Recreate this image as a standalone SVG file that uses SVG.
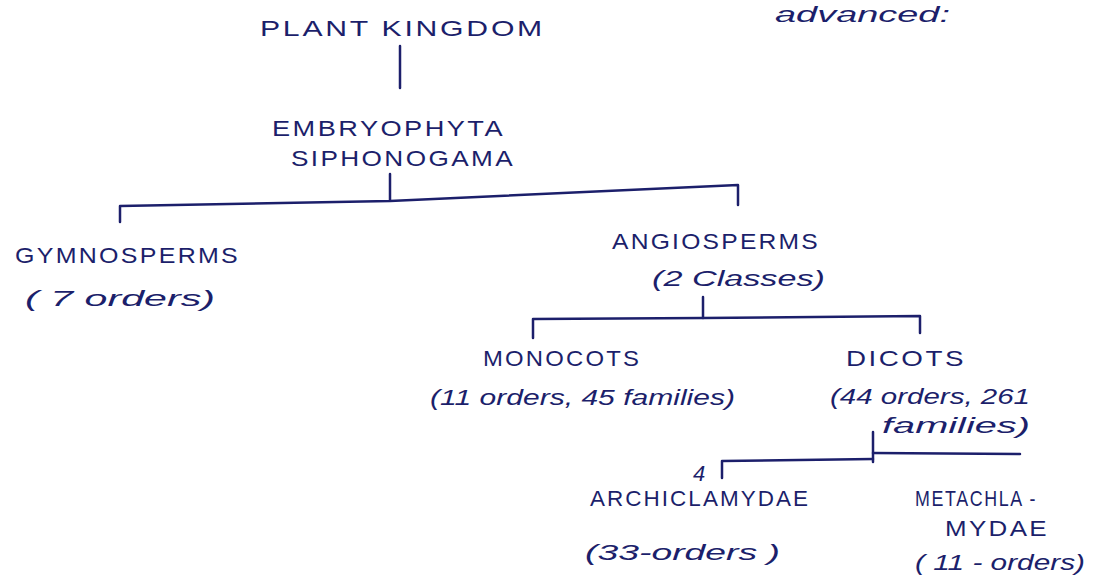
<svg xmlns="http://www.w3.org/2000/svg" width="1100" height="579" viewBox="0 0 1100 579">
<style>
.t{font-family:"Liberation Sans",Arial,sans-serif;fill:#1c1f6b;font-size:22px;letter-spacing:2px}
.s{font-family:"Liberation Sans",Arial,sans-serif;fill:#1c1f6b;font-size:22px;font-style:italic}
.c{fill:none;stroke:#1c1f6b;stroke-width:2.5;stroke-linecap:round;stroke-linejoin:round}
</style>
<rect width="1100" height="579" fill="#ffffff"/>
<g id="connectors">
<path class="c" d="M400 46 V88"/>
<path class="c" d="M390 174 V200"/>
<path class="c" d="M120 222 V206 L390 201 L738 185 V205"/>
<path class="c" d="M703 297 V318"/>
<path class="c" d="M533 338 V319 L703 318 L920 316 V333"/>
<path class="c" d="M873 432 V462"/>
<path class="c" d="M722 478 V461 L873 459"/>
<path class="c" d="M873 453 L1020 454"/>
</g>
<g id="note"><text class="s" x="775" y="22" font-size="20" textLength="175" lengthAdjust="spacingAndGlyphs">advanced:</text></g>
<g id="plant-kingdom"><text class="t" x="260" y="36" textLength="285" lengthAdjust="spacingAndGlyphs">PLANT KINGDOM</text></g>
<g id="embryophyta"><text class="t" x="272" y="136" textLength="233" lengthAdjust="spacingAndGlyphs">EMBRYOPHYTA</text><text class="t" x="291" y="166" textLength="224" lengthAdjust="spacingAndGlyphs">SIPHONOGAMA</text></g>
<g id="gymnosperms"><text class="t" x="15" y="263" textLength="225" lengthAdjust="spacingAndGlyphs">GYMNOSPERMS</text><text class="s" x="25" y="306" textLength="190" lengthAdjust="spacingAndGlyphs">( 7 orders)</text></g>
<g id="angiosperms"><text class="t" x="612" y="249" textLength="208" lengthAdjust="spacingAndGlyphs">ANGIOSPERMS</text><text class="s" x="652" y="286" textLength="173" lengthAdjust="spacingAndGlyphs">(2 Classes)</text></g>
<g id="monocots"><text class="t" x="483" y="366" textLength="158" lengthAdjust="spacingAndGlyphs">MONOCOTS</text><text class="s" x="430" y="405" textLength="305" lengthAdjust="spacingAndGlyphs">(11 orders, 45 families)</text></g>
<g id="dicots"><text class="t" x="846" y="366" textLength="120" lengthAdjust="spacingAndGlyphs">DICOTS</text><text class="s" x="830" y="404" textLength="200" lengthAdjust="spacingAndGlyphs">(44 orders, 261</text><text class="s" x="882" y="433" font-size="20" textLength="148" lengthAdjust="spacingAndGlyphs">families)</text></g>
<g id="archiclamydae"><text class="s" x="693" y="481" font-size="13">4</text><text class="t" x="590" y="506" textLength="220" lengthAdjust="spacingAndGlyphs">ARCHICLAMYDAE</text><text class="s" x="585" y="560" font-size="26" textLength="195" lengthAdjust="spacingAndGlyphs">(33-orders )</text></g>
<g id="metachlamydae"><text class="t" x="915" y="506" font-size="20" textLength="122" lengthAdjust="spacingAndGlyphs">METACHLA -</text><text class="t" x="945" y="536" textLength="104" lengthAdjust="spacingAndGlyphs">MYDAE</text><text class="s" x="915" y="570" textLength="170" lengthAdjust="spacingAndGlyphs">( 11 - orders)</text></g>
</svg>
